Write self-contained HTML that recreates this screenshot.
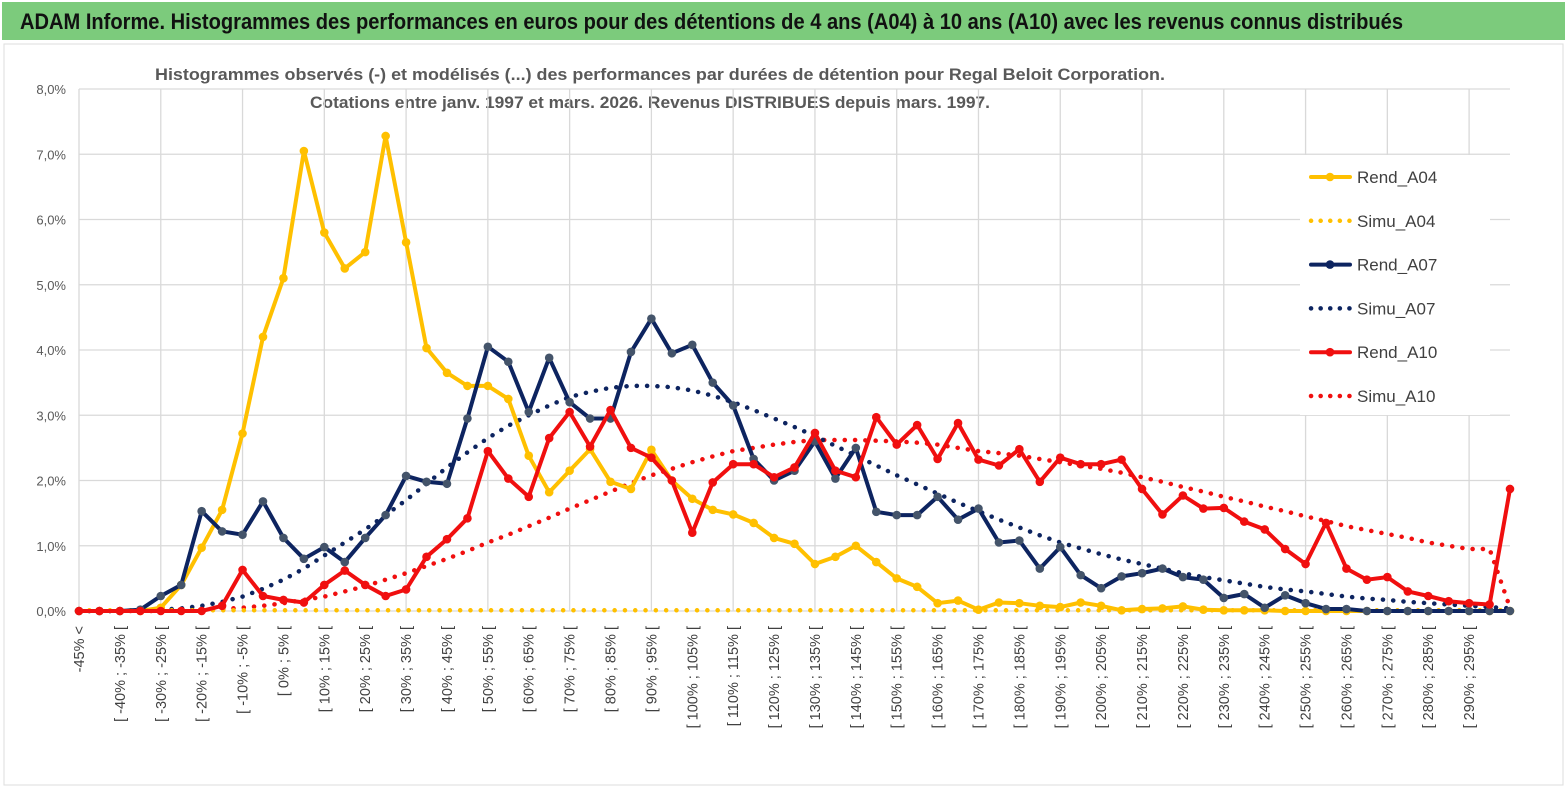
<!DOCTYPE html>
<html><head><meta charset="utf-8"><style>
body{margin:0;background:#fff;width:1567px;height:789px;overflow:hidden;font-family:"Liberation Sans",sans-serif}
</style></head><body>
<svg id="c" width="1567" height="789" xmlns="http://www.w3.org/2000/svg">
<rect x="0" y="0" width="1567" height="789" fill="#fff"/>
<rect x="2" y="2" width="1563" height="38" fill="#7ccb7c"/>
<text x="20" y="29" text-anchor="start" font-size="22" font-weight="bold" fill="#111" textLength="1383" lengthAdjust="spacingAndGlyphs">ADAM Informe. Histogrammes des performances en euros pour des détentions de 4 ans (A04) à 10 ans (A10) avec les revenus connus distribués</text>
<rect x="4" y="44" width="1559" height="741" fill="none" stroke="#ddd"/>
<text x="660" y="80" text-anchor="middle" font-size="17" font-weight="bold" fill="#595959" textLength="1010" lengthAdjust="spacingAndGlyphs">Histogrammes observés (-) et modélisés (...) des performances par durées de détention pour Regal Beloit Corporation.</text>
<text x="650" y="108" text-anchor="middle" font-size="17" font-weight="bold" fill="#595959" textLength="680" lengthAdjust="spacingAndGlyphs">Cotations entre janv. 1997 et mars. 2026. Revenus DISTRIBUES depuis mars. 1997.</text>
<g id="grid"></g><g id="axes"></g><g id="series"></g><g id="legend"></g>
</svg>
<script>
const rendA04=[0,0,0,0,0.05,0.4,0.97,1.55,2.72,4.2,5.1,7.05,5.8,5.25,5.5,7.28,5.65,4.03,3.65,3.45,3.45,3.25,2.38,1.82,2.15,2.48,1.98,1.87,2.47,2.0,1.72,1.55,1.48,1.35,1.12,1.03,0.72,0.83,1.0,0.75,0.5,0.37,0.12,0.16,0.02,0.13,0.12,0.08,0.06,0.13,0.08,0.01,0.03,0.04,0.07,0.02,0.01,0.01,0.01,0,0,0,0,0,0,0,0,0,0,0,0];
const simuA04=[0.01,0.01,0.01,0.01,0.01,0.01,0.01,0.01,0.01,0.01,0.01,0.01,0.01,0.01,0.01,0.01,0.01,0.01,0.01,0.01,0.01,0.01,0.01,0.01,0.01,0.01,0.01,0.01,0.01,0.01,0.01,0.01,0.01,0.01,0.01,0.01,0.01,0.01,0.01,0.01,0.01,0.01,0.01,0.01,0.01,0.01,0.01,0.01,0.01,0.01,0.01,0.01,0.01,0.01,0.01,0.01,0.01,0.01,0.01,0.01,0.01,0.01,0.01,0.01,0.01,0.01,0.01,0.01,0.01,0.01,0.01];
const rendA07=[0,0,0,0.02,0.23,0.4,1.53,1.22,1.17,1.68,1.12,0.8,0.98,0.75,1.12,1.47,2.07,1.98,1.95,2.95,4.05,3.82,3.05,3.88,3.2,2.95,2.95,3.97,4.48,3.95,4.08,3.5,3.15,2.33,2.0,2.15,2.6,2.03,2.5,1.52,1.47,1.47,1.75,1.4,1.57,1.05,1.08,0.65,0.98,0.55,0.35,0.53,0.58,0.65,0.52,0.48,0.2,0.26,0.05,0.24,0.12,0.03,0.03,0,0,0,0,0,0,0,0];
const simuA07=[0,0,0,0.01,0.02,0.04,0.08,0.14,0.22,0.34,0.48,0.65,0.85,1.05,1.25,1.47,1.7,1.95,2.2,2.43,2.65,2.84,3.0,3.15,3.28,3.36,3.42,3.45,3.45,3.43,3.38,3.3,3.2,3.08,2.95,2.82,2.68,2.53,2.38,2.23,2.08,1.94,1.8,1.66,1.53,1.4,1.28,1.16,1.05,0.96,0.87,0.79,0.72,0.65,0.58,0.52,0.47,0.42,0.37,0.33,0.3,0.26,0.22,0.19,0.17,0.14,0.12,0.1,0.08,0.06,0.04];
const rendA10=[0,0,0,0,0,0,0,0.08,0.63,0.23,0.17,0.13,0.4,0.62,0.4,0.23,0.33,0.83,1.1,1.42,2.45,2.03,1.75,2.65,3.05,2.52,3.08,2.5,2.35,2.0,1.2,1.97,2.25,2.25,2.05,2.2,2.73,2.15,2.05,2.97,2.55,2.85,2.33,2.88,2.32,2.23,2.48,1.98,2.35,2.25,2.25,2.32,1.87,1.48,1.77,1.57,1.58,1.37,1.25,0.95,0.72,1.35,0.65,0.48,0.52,0.3,0.23,0.15,0.12,0.1,1.87];
const simuA10=[0,0,0,0,0,0.01,0.02,0.03,0.05,0.08,0.12,0.17,0.22,0.3,0.38,0.48,0.58,0.69,0.8,0.92,1.05,1.17,1.3,1.43,1.57,1.7,1.83,1.96,2.08,2.18,2.28,2.37,2.45,2.5,2.55,2.59,2.62,2.62,2.62,2.61,2.6,2.58,2.55,2.5,2.45,2.42,2.38,2.33,2.28,2.23,2.18,2.12,2.05,1.98,1.9,1.83,1.75,1.68,1.6,1.53,1.45,1.38,1.3,1.24,1.18,1.12,1.05,1.0,0.95,0.95,0.05];
const yTicks=[0,1,2,3,4,5,6,7,8];
const yTickLabels=["0,0%","1,0%","2,0%","3,0%","4,0%","5,0%","6,0%","7,0%","8,0%"];
const cats=["-45% <"];
for(let s=-45;s<300;s+=5){cats.push("[ "+s+"% ; "+(s+5)+"% [");}
cats.push("> 300%");
const NS="http://www.w3.org/2000/svg";
const X0=79,X1=1510,Y0=611,YT=89;
const xs=i=>X0+i*(X1-X0)/(cats.length-1);
const ys=v=>Y0-v*(Y0-YT)/8;
function mk(tag,at,parent){const e=document.createElementNS(NS,tag);for(const k in at)e.setAttribute(k,at[k]);parent.appendChild(e);return e;}
const grid=document.getElementById('grid'),axes=document.getElementById('axes'),ser=document.getElementById('series'),leg=document.getElementById('legend');
yTicks.forEach((t,k)=>{
 const l=mk('line',{x1:X0,x2:X1,y1:ys(t),y2:ys(t),stroke:'#d9d9d9','stroke-width':1.3},grid);
 
 
 const tx=mk('text',{x:66,y:ys(t)+5,'text-anchor':'end','font-size':13,fill:'#595959'},axes);
 tx.textContent=yTickLabels[k];
 
 
});
for(let i=0;i<cats.length;i+=4){
 const l=mk('line',{x1:xs(i),x2:xs(i),y1:YT,y2:Y0,stroke:'#d9d9d9','stroke-width':1.3},grid);
 
 
}
for(let i=0;i<cats.length-1;i+=2){
 const x=xs(i)+5,y=626;
 const tx=mk('text',{x:x,y:y,'text-anchor':'end','font-size':14.5,fill:'#404040',transform:`rotate(-90 ${x} ${y})`},axes);
 tx.textContent=cats[i];
 
 
}
const series=[
 {n:'simu-a10',d:simuA10,c:'#f00f0f',dot:true},
 {n:'simu-a07',d:simuA07,c:'#0d2460',dot:true},
 {n:'simu-a04',d:simuA04,c:'#ffc000',dot:true},
 {n:'rend-a04',d:rendA04,c:'#ffc000',m:'#ffc000'},
 {n:'rend-a07',d:rendA07,c:'#0d2460',m:'#44546a'},
 {n:'rend-a10',d:rendA10,c:'#f00f0f',m:'#f00f0f'}];
series.forEach(s=>{
 const pts=s.d.map((v,i)=>xs(i).toFixed(1)+','+ys(v).toFixed(1)).join(' ');
 const p=mk('polyline',{points:pts,fill:'none',stroke:s.c,'stroke-width':4,'stroke-linejoin':'round','stroke-linecap':'round'},ser);
 if(s.dot){p.setAttribute('stroke-dasharray','0.1 10.2');p.setAttribute('stroke-width',4.5);}
 
 
 if(!s.dot){s.d.forEach((v,i)=>{
  const c=mk('circle',{cx:xs(i),cy:ys(v),r:4.3,fill:s.m},ser);
  
  
 });}
});
mk('rect',{x:1300,y:155,width:190,height:260,fill:'#fff'},leg);
const legItems=[['Rend_A04','#ffc000',false],['Simu_A04','#ffc000',true],['Rend_A07','#0d2460',false],['Simu_A07','#0d2460',true],['Rend_A10','#f00f0f',false],['Simu_A10','#f00f0f',true]];
legItems.forEach((it,k)=>{
 const y=177+k*43.8;
 const g=mk('g',{},leg);
 
 
 const l=mk('line',{x1:1311,x2:1350,y1:y,y2:y,stroke:it[1],'stroke-width':4,'stroke-linecap':'round'},g);
 if(it[2]){l.setAttribute('stroke-dasharray','0.1 9.5');l.setAttribute('stroke-width',4.5);}
 else mk('circle',{cx:1330,cy:y,r:4.3,fill:it[1]},g);
 const t=mk('text',{x:1357,y:y+6,'font-size':17,fill:'#404040'},g);
 t.textContent=it[0];
});
</script>
</body></html>
